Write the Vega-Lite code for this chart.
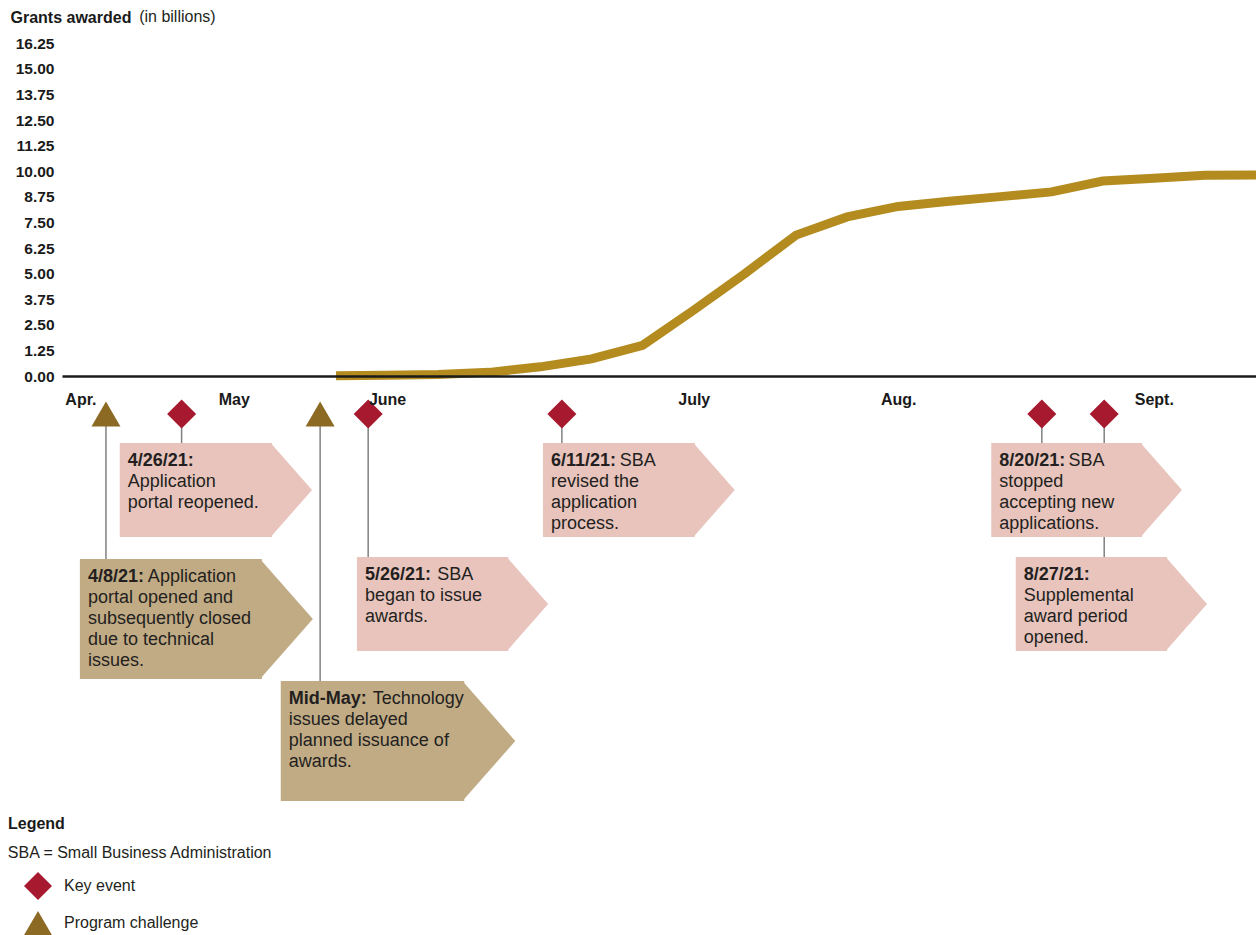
{
  "$schema": "https://vega.github.io/schema/vega-lite/v6.json",
  "width": 1194,
  "height": 935,
  "autosize": {"type": "none"},
  "padding": {"left": 62, "top": 0, "right": 0, "bottom": 0},
  "background": "white",
  "config": {
    "view": {"stroke": null},
    "font": "Liberation Sans",
    "legend": {"padding": 0}
  },
  "datasets": {
    "grants": [
      {"period": 0, "awarded": 0.02},
      {"period": 1, "awarded": 0.04},
      {"period": 2, "awarded": 0.07},
      {"period": 3, "awarded": 0.18},
      {"period": 4, "awarded": 0.45},
      {"period": 5, "awarded": 0.84},
      {"period": 6, "awarded": 1.5},
      {"period": 7, "awarded": 3.22},
      {"period": 8, "awarded": 5.0},
      {"period": 9, "awarded": 6.88},
      {"period": 10, "awarded": 7.77},
      {"period": 11, "awarded": 8.28},
      {"period": 12, "awarded": 8.53},
      {"period": 13, "awarded": 8.76},
      {"period": 14, "awarded": 8.99},
      {"period": 15, "awarded": 9.52},
      {"period": 16, "awarded": 9.66},
      {"period": 17, "awarded": 9.8},
      {"period": 18, "awarded": 9.82}
    ],
    "events": [
      {"event": "4/8/21", "type": "Program challenge", "period": -4.5, "box_start": -5.01, "box_end": -1.45, "box_top": -8.93, "box_bottom": -14.79, "label": "4/8/21:", "first": "Application", "first_at": -3.68, "more": ["portal opened and", "subsequently closed", "due to technical", "issues."]},
      {"event": "4/26/21", "type": "Key event", "period": -3.02, "box_start": -4.23, "box_end": -1.25, "box_top": -3.27, "box_bottom": -7.86, "label": "4/26/21:", "first": "", "first_at": -4.23, "more": ["Application", "portal reopened."]},
      {"event": "Mid-May", "type": "Program challenge", "period": -0.31, "box_start": -1.08, "box_end": 2.51, "box_top": -14.89, "box_bottom": -20.75, "label": "Mid-May:", "first": "Technology", "first_at": 0.72, "more": ["issues delayed", "planned issuance of", "awards."]},
      {"event": "5/26/21", "type": "Key event", "period": 0.63, "box_start": 0.41, "box_end": 3.37, "box_top": -8.84, "box_bottom": -13.43, "label": "5/26/21:", "first": "SBA", "first_at": 1.98, "more": ["began to issue", "awards."]},
      {"event": "6/11/21", "type": "Key event", "period": 4.42, "box_start": 4.05, "box_end": 7.02, "box_top": -3.27, "box_bottom": -7.86, "label": "6/11/21:", "first": "SBA", "first_at": 5.55, "more": ["revised the", "application", "process."]},
      {"event": "8/20/21", "type": "Key event", "period": 13.81, "box_start": 12.82, "box_end": 15.77, "box_top": -3.27, "box_bottom": -7.86, "label": "8/20/21:", "first": "SBA", "first_at": 14.33, "more": ["stopped", "accepting new", "applications."]},
      {"event": "8/27/21", "type": "Key event", "period": 15.03, "box_start": 13.3, "box_end": 16.26, "box_top": -8.84, "box_bottom": -13.43, "label": "8/27/21:", "first": "", "first_at": 13.3, "more": ["Supplemental", "award period", "opened."]}
    ]
  },
  "layer": [
    {
      "data": {"name": "grants"},
      "mark": {"type": "line", "color": "#B38B1F", "strokeWidth": 9, "strokeCap": "butt"},
      "encoding": {
        "x": {
          "field": "period", "type": "quantitative",
          "scale": {"domain": [-5.36, 18], "nice": false, "zero": false},
          "axis": {
            "values": [-5, -2, 1, 7, 11, 16],
            "labelExpr": "datum.value == -5 ? 'Apr.' : datum.value == -2 ? 'May' : datum.value == 1 ? 'June' : datum.value == 7 ? 'July' : datum.value == 11 ? 'Aug.' : 'Sept.'",
            "title": null, "ticks": false, "grid": false,
            "domainColor": "#1a1a1a", "domainWidth": 2.5, "offset": -559,
            "labelFontSize": 16, "labelFontWeight": "bold", "labelColor": "#1a1a1a",
            "labelPadding": 15, "labelFlush": false, "labelOverlap": false, "zindex": 1
          }
        },
        "y": {
          "field": "awarded", "type": "quantitative",
          "scale": {"domain": [-27.29, 18.36], "nice": false, "zero": false},
          "axis": {
            "values": [0, 1.25, 2.5, 3.75, 5, 6.25, 7.5, 8.75, 10, 11.25, 12.5, 13.75, 15, 16.25],
            "format": ".2f",
            "title": "Grants awarded", "titleAngle": 0, "titleAlign": "left", "titleBaseline": "middle",
            "titleX": -52, "titleY": 17, "titleFontSize": 16, "titleFontWeight": "bold", "titleColor": "#1a1a1a",
            "labelFontSize": 15.5, "labelFontWeight": "bold", "labelColor": "#1a1a1a",
            "ticks": false, "domain": false, "grid": false, "labelPadding": 8
          }
        }
      }
    },
    {
      "data": {"values": [{"note": "(in billions)", "period": -3.85, "level": 17.53}]},
      "mark": {"type": "text", "align": "left", "baseline": "middle", "fontSize": 16, "color": "#231f20"},
      "encoding": {
        "x": {"field": "period", "type": "quantitative"},
        "y": {"field": "level", "type": "quantitative"},
        "text": {"field": "note", "type": "nominal"}
      }
    },
    {
      "data": {"values": [{"note": "SBA = Small Business Administration", "period": -6.42, "level": -23.29}]},
      "mark": {"type": "text", "align": "left", "baseline": "middle", "fontSize": 16, "color": "#231f20"},
      "encoding": {
        "x": {"field": "period", "type": "quantitative"},
        "y": {"field": "level", "type": "quantitative"},
        "text": {"field": "note", "type": "nominal"}
      }
    },
    {
      "data": {"name": "events"},
      "mark": {"type": "rule", "color": "#808080", "strokeWidth": 1.5},
      "encoding": {
        "x": {"field": "period", "type": "quantitative"},
        "y": {"field": "box_top", "type": "quantitative"},
        "y2": {"datum": -1.85}
      }
    },
    {
      "data": {"name": "events"},
      "mark": {"type": "rect"},
      "encoding": {
        "x": {"field": "box_start", "type": "quantitative"},
        "x2": {"field": "box_end"},
        "y": {"field": "box_top", "type": "quantitative"},
        "y2": {"field": "box_bottom"},
        "color": {"condition": {"test": "datum.type === 'Program challenge'", "value": "#C1AB85"}, "value": "#E8C4BC"}
      }
    },
    {
      "data": {"name": "events"},
      "mark": {"type": "point", "shape": "M-0.03,0L0.85,1L-0.03,2Z", "filled": true, "opacity": 1, "strokeWidth": 0},
      "encoding": {
        "x": {"field": "box_end", "type": "quantitative"},
        "y": {"field": "box_top", "type": "quantitative"},
        "color": {"condition": {"test": "datum.type === 'Program challenge'", "value": "#C1AB85"}, "value": "#E8C4BC"},
        "size": {"condition": {"test": "datum.type === 'Program challenge'", "value": 14400}, "value": 8836}
      }
    },
    {
      "data": {"name": "events"},
      "mark": {"type": "text", "align": "left", "baseline": "top", "dx": 8, "dy": 9, "fontSize": 18, "fontWeight": "bold", "color": "#231f20"},
      "encoding": {
        "x": {"field": "box_start", "type": "quantitative"},
        "y": {"field": "box_top", "type": "quantitative"},
        "text": {"field": "label", "type": "nominal"}
      }
    },
    {
      "data": {"name": "events"},
      "mark": {"type": "text", "align": "left", "baseline": "top", "dy": 9, "fontSize": 18, "color": "#231f20"},
      "encoding": {
        "x": {"field": "first_at", "type": "quantitative"},
        "y": {"field": "box_top", "type": "quantitative"},
        "text": {"field": "first", "type": "nominal"}
      }
    },
    {
      "data": {"name": "events"},
      "mark": {"type": "text", "align": "left", "baseline": "top", "dx": 8, "dy": 30, "fontSize": 18, "lineHeight": 21, "color": "#231f20"},
      "encoding": {
        "x": {"field": "box_start", "type": "quantitative"},
        "y": {"field": "box_top", "type": "quantitative"},
        "text": {"field": "more", "type": "nominal"}
      }
    },
    {
      "data": {"name": "events"},
      "mark": {"type": "point", "filled": true, "opacity": 1, "size": 841, "strokeWidth": 0},
      "encoding": {
        "x": {"field": "period", "type": "quantitative"},
        "y": {"datum": -1.85, "type": "quantitative"},
        "shape": {
          "field": "type", "type": "nominal",
          "scale": {"domain": ["Key event", "Program challenge"], "range": ["diamond", "triangle-up"]},
          "legend": {
            "title": "Legend", "orient": "none", "legendX": -54, "legendY": 816,
            "titleFontSize": 16, "titleFontWeight": "bold", "titleColor": "#1a1a1a", "titlePadding": 40,
            "labelFontSize": 16, "labelColor": "#231f20", "labelOffset": 12,
            "symbolSize": 784, "symbolOffset": 16, "symbolStrokeWidth": 0, "symbolOpacity": 1,
            "rowPadding": 9
          }
        },
        "color": {
          "field": "type", "type": "nominal",
          "scale": {"domain": ["Key event", "Program challenge"], "range": ["#A6192E", "#8C6A24"]},
          "legend": {
            "title": "Legend", "orient": "none", "legendX": -54, "legendY": 816,
            "titleFontSize": 16, "titleFontWeight": "bold", "titleColor": "#1a1a1a", "titlePadding": 40,
            "labelFontSize": 16, "labelColor": "#231f20", "labelOffset": 12,
            "symbolSize": 784, "symbolOffset": 16, "symbolStrokeWidth": 0, "symbolOpacity": 1,
            "rowPadding": 9
          }
        }
      }
    }
  ]
}
